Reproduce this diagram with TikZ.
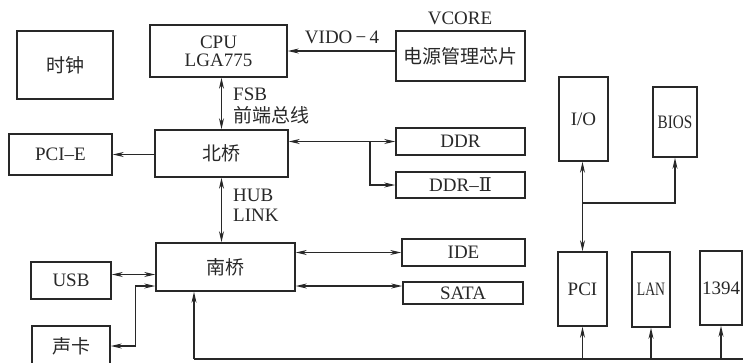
\documentclass[tikz,border=0pt]{standalone}
\usepackage{fontspec}
\setmainfont{Liberation Serif}
\newfontfamily\cjk{Noto Sans CJK SC}
\newfontfamily\numfont{DejaVu Serif}
\usepackage{tikz}
\usetikzlibrary{arrows.meta}
\definecolor{ink}{RGB}{40, 40, 40}

\begin{document}
\begin{tikzpicture}[x=1pt, y=-1pt, >={Stealth[length=11pt,width=5pt]},
    blk/.style={draw=ink, line width=1.6pt, inner sep=0pt, text=ink, align=center},
    lnk/.style={draw=ink, line width=1.1pt},
    lbl/.style={text=ink, inner sep=0pt, anchor=west}]
    \useasboundingbox (0,0) rectangle (743,362);
    \clip (0,0) rectangle (743,362);
    \fontsize{19}{21}\selectfont
    \node[blk, minimum width=96pt, minimum height=68pt] (clk) at (65,65) {\cjk 时钟};
    \node[blk, minimum width=137pt, minimum height=52pt] (cpu) at (218.5,51) {CPU\\[-3pt]LGA775};
    \node[blk, minimum width=129pt, minimum height=50pt] (pwr) at (460.5,56) {\cjk 电源管理芯片};
    \node[text=ink] (vcore) at (460,18) {VCORE};
    \node[text=ink] (vido) at (342,37) {VIDO{\,}−{\,}4};
    \node[blk, minimum width=133pt, minimum height=47pt] (nb) at (221.5,153.5) {\cjk 北桥};
    \node[blk, minimum width=103pt, minimum height=41pt] (pcie) at (60.5,154.5) {PCI–E};
    \node[blk, minimum width=129pt, minimum height=27pt] (ddr) at (460.5,141.5) {DDR};
    \node[blk, minimum width=129pt, minimum height=26pt] (ddr2) at (460.5,185) {DDR–{\numfont Ⅱ}};
    \node[lbl] (fsb) at (233,94) {FSB};
    \node[lbl] (fsbcn) at (233,115) {\cjk 前端总线};
    \node[lbl] (hub) at (233,195) {HUB};
    \node[lbl] (link) at (233,215) {LINK};
    \node[blk, minimum width=139pt, minimum height=48pt] (sb) at (225.5,267) {\cjk 南桥};
    \node[blk, minimum width=80pt, minimum height=37pt] (usb) at (71,280.5) {USB};
    \node[blk, minimum width=78pt, minimum height=40pt] (snd) at (71,346) {\cjk 声卡};
    \node[blk, minimum width=123pt, minimum height=27pt] (ide) at (463.5,252.5) {IDE};
    \node[blk, minimum width=120pt, minimum height=22pt] (sata) at (463,293) {SATA};
    \node[blk, minimum width=49pt, minimum height=84pt] (io) at (583.5,119) {I/O};
    \node[blk, minimum width=44pt, minimum height=70pt] (bios) at (675,122) {\scalebox{0.8}[1]{BIOS}};
    \node[blk, minimum width=49pt, minimum height=74pt] (pci) at (582.5,289) {PCI};
    \node[blk, minimum width=38pt, minimum height=75pt] (lan) at (651,289.5) {\scalebox{0.72}[1]{LAN}};
    \node[blk, minimum width=42pt, minimum height=74pt] (n1394) at (721,288) {1394};
    \coordinate (ddrj) at (370,141.5);
    \coordinate (pcij) at (582.5,203);
    \coordinate (bus0) at (194,359);
    \coordinate (bus1) at (743,359);
    \draw[lnk, ->] (pwr.west |- cpu.east) -- (cpu.east);
    \draw[lnk, <->] (nb.north) -- (nb.north |- cpu.south);
    \draw[lnk, ->] (nb.west |- pcie.east) -- (pcie.east);
    \draw[lnk, <->] (nb.east |- ddr.west) -- (ddr.west);
    \draw[lnk, ->] (ddrj) |- (ddr2.west);
    \draw[lnk, <->] (nb.south) -- (nb.south |- sb.north);
    \draw[lnk, <->] ([yshift=6pt]usb.east) -- ([yshift=6pt]usb.east -| sb.west);
    \draw[lnk, <->] (snd.east) -| ([xshift=-20pt,yshift=-19pt]sb.west) -- ([yshift=-19pt]sb.west);
    \draw[lnk, <->] (sb.east |- ide.west) -- (ide.west);
    \draw[lnk, <->] ([yshift=-19pt]sb.east) -- ([yshift=-19pt]sb.east -| sata.west);
    \draw[lnk, ->] (bus0) -- (bus0 |- sb.south);
    \draw[lnk] (bus0) -- (bus1);
    \draw[lnk, ->] (pci.south |- bus0) -- (pci.south);
    \draw[lnk, ->] (lan.south |- bus0) -- (lan.south);
    \draw[lnk, ->] (n1394.south |- bus0) -- (n1394.south);
    \draw[lnk, <->] (pci.north) -- (pci.north |- io.south);
    \draw[lnk, ->] (pcij) -| (bios.south);
  \end{tikzpicture}
\end{document}
